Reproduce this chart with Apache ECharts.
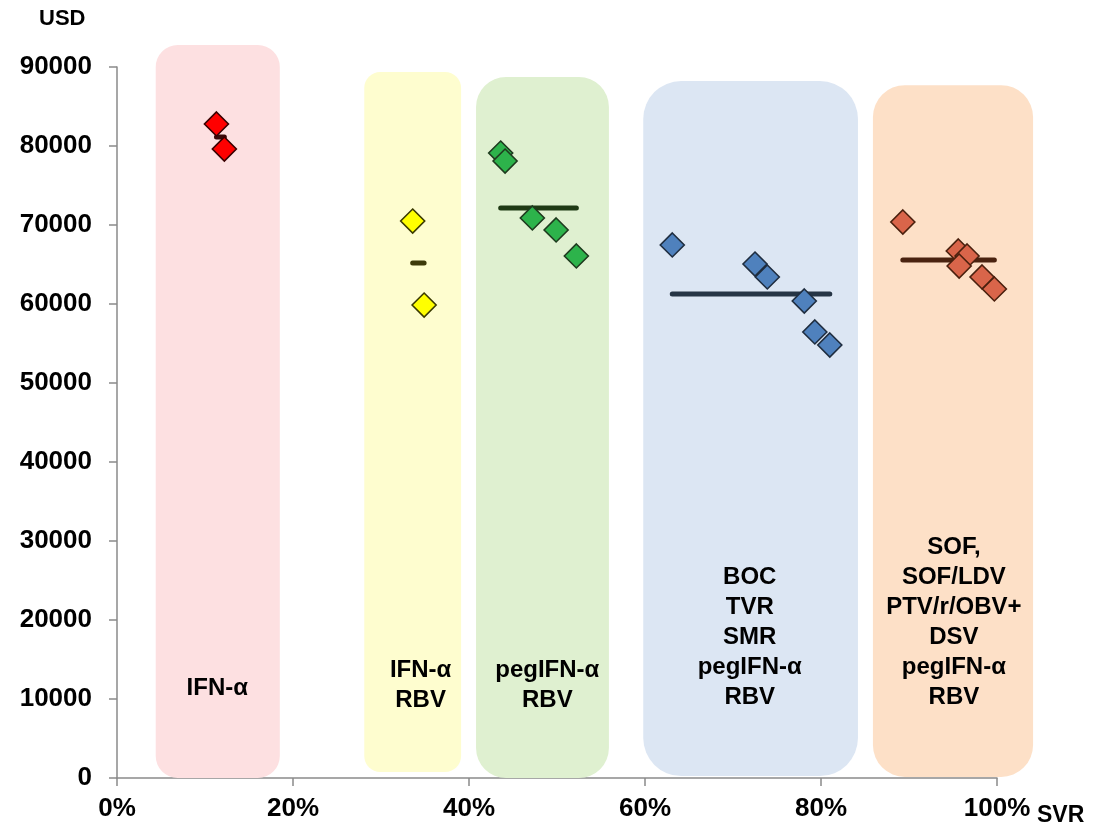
<!DOCTYPE html>
<html>
<head>
<meta charset="utf-8">
<script src="https://cdn.jsdelivr.net/npm/echarts@6/dist/echarts.min.js"></script>
<style>
html,body{margin:0;padding:0;background:#fff;}
#c{width:1109px;height:826px;}
</style>
</head>
<body>
<div id="c"></div>
<script>
// ---- data ----
const xTickLabels = ['0%', '20%', '40%', '60%', '80%', '100%'];
const yTickLabels = ['0', '10000', '20000', '30000', '40000', '50000', '60000', '70000', '80000', '90000'];

const groupLabels = ['IFN-α', 'IFN-α\nRBV', 'pegIFN-α\nRBV', 'BOC\nTVR\nSMR\npegIFN-α\nRBV', 'SOF,\nSOF/LDV\nPTV/r/OBV+\nDSV\npegIFN-α\nRBV'];

// regions (shaded backgrounds) in data units: x start %, x end %, y bottom, y top
const boxX0 = [4.4, 28.1, 40.8, 59.8, 85.9];
const boxX1 = [18.5, 39.1, 55.9, 84.2, 104.1];
const boxY0 = [0, 760, 0, 250, 130];
const boxY1 = [92780, 89370, 88730, 88230, 87700];
const labelX = [11.4, 34.5, 48.9, 71.9, 95.1];
const labelY = [9490, 7970, 7970, 8350, 8350];

// scatter points (SVR %, cost USD)
const ifnX = [11.3, 12.2];
const ifnY = [82790, 79620];
const ifnRbvX = [33.6, 34.9];
const ifnRbvY = [70500, 59870];
const pegX = [43.6, 44.1, 47.2, 49.9, 52.2];
const pegY = [79110, 78100, 70890, 69370, 66080];
const daa1X = [63.1, 72.5, 73.9, 78.1, 79.3, 81.0];
const daa1Y = [67470, 65060, 63420, 60380, 56460, 54810];
const daa2X = [89.3, 95.6, 96.6, 95.7, 98.3, 99.7];
const daa2Y = [70380, 66710, 66080, 64810, 63420, 61900];

// mean lines
const meanY = [81140, 65190, 72150, 61270, 65570];

// ---- styles ----
const boxColors = ['#fde0e1', '#fefdcf', '#dff0d0', '#dce6f3', '#fde0c7'];
const boxRadius = [22, 16, 30, 38, 32];
const ptColors = ['#ff0000', '#ffff00', '#2db34b', '#4f81bd', '#d9654a'];
const ptBorders = ['#3a0000', '#3a3a00', '#1e3a1e', '#1f2d3f', '#4a200e'];
const meanColors = ['#3a0a0a', '#3d3a0a', '#1f3a14', '#263545', '#4a2310'];

const FONT = 'Liberation Sans, Arial, sans-serif';

const xs = [ifnX, ifnRbvX, pegX, daa1X, daa2X];
const ys = [ifnY, ifnRbvY, pegY, daa1Y, daa2Y];

const boxData = boxX0.map((x0, i) => [x0, boxX1[i], boxY0[i], boxY1[i], labelX[i], labelY[i], i]);

const series = [];
series.push({
  type: 'custom',
  clip: false,
  silent: true,
  z: 1,
  data: boxData,
  encode: { x: [0, 1], y: [2, 3] },
  renderItem: function (params, api) {
    const i = api.value(6);
    const p0 = api.coord([api.value(0), api.value(3)]);
    const p1 = api.coord([api.value(1), api.value(2)]);
    const lp = api.coord([api.value(4), api.value(5)]);
    return {
      type: 'group',
      children: [
        {
          type: 'rect',
          shape: { x: p0[0], y: p0[1], width: p1[0] - p0[0], height: p1[1] - p0[1], r: boxRadius[i] },
          style: { fill: boxColors[i] }
        },
        {
          type: 'text',
          style: {
            text: groupLabels[i],
            x: lp[0], y: lp[1],
            fill: '#000',
            font: 'bold 24px ' + FONT,
            align: 'center', verticalAlign: 'bottom',
            textAlign: 'center', textVerticalAlign: 'bottom',
            lineHeight: 30
          }
        }
      ]
    };
  }
});

xs.forEach((xa, g) => {
  const mn = Math.min.apply(null, xa), mx = Math.max.apply(null, xa);
  series.push({
    type: 'line',
    data: [[mn, meanY[g]], [mx, meanY[g]]],
    symbol: 'none',
    z: 3,
    silent: true,
    lineStyle: { color: meanColors[g], width: 5, cap: 'round' }
  });
  series.push({
    type: 'scatter',
    data: xa.map((x, k) => [x, ys[g][k]]),
    symbol: 'diamond',
    symbolSize: [24, 24],
    z: 4,
    itemStyle: { color: ptColors[g], borderColor: ptBorders[g], borderWidth: 1.6, opacity: 1 }
  });
});

const chart = echarts.init(document.getElementById('c'), null, { renderer: 'canvas' });
chart.setOption({
  animation: false,
  backgroundColor: '#ffffff',
  grid: { left: 117, right: 112, top: 67, bottom: 48, containLabel: false },
  xAxis: {
    type: 'value', min: 0, max: 100, interval: 20,
    axisLine: { show: true, lineStyle: { color: '#8a8a8a', width: 1.5 } },
    axisTick: { show: true, length: 8, lineStyle: { color: '#8a8a8a', width: 1.5 } },
    splitLine: { show: false },
    axisLabel: {
      margin: 18, color: '#000', fontWeight: 'bold', fontSize: 26, fontFamily: FONT,
      formatter: function (v) { return xTickLabels[Math.round(v / 20)]; }
    }
  },
  yAxis: {
    type: 'value', min: 0, max: 90000, interval: 10000,
    axisLine: { show: true, lineStyle: { color: '#8a8a8a', width: 1.5 } },
    axisTick: { show: true, length: 8, lineStyle: { color: '#8a8a8a', width: 1.5 } },
    splitLine: { show: false },
    axisLabel: {
      margin: 25, color: '#000', fontWeight: 'bold', fontSize: 26, fontFamily: FONT,
      formatter: function (v) { return yTickLabels[Math.round(v / 10000)]; }
    }
  },
  graphic: [
    { type: 'text', left: 39, top: 8, style: { text: 'USD', fill: '#000', font: 'bold 22px ' + FONT } },
    { type: 'text', left: 1037, top: 804, style: { text: 'SVR', fill: '#000', font: 'bold 23px ' + FONT } }
  ],
  series: series
});
</script>
</body>
</html>
